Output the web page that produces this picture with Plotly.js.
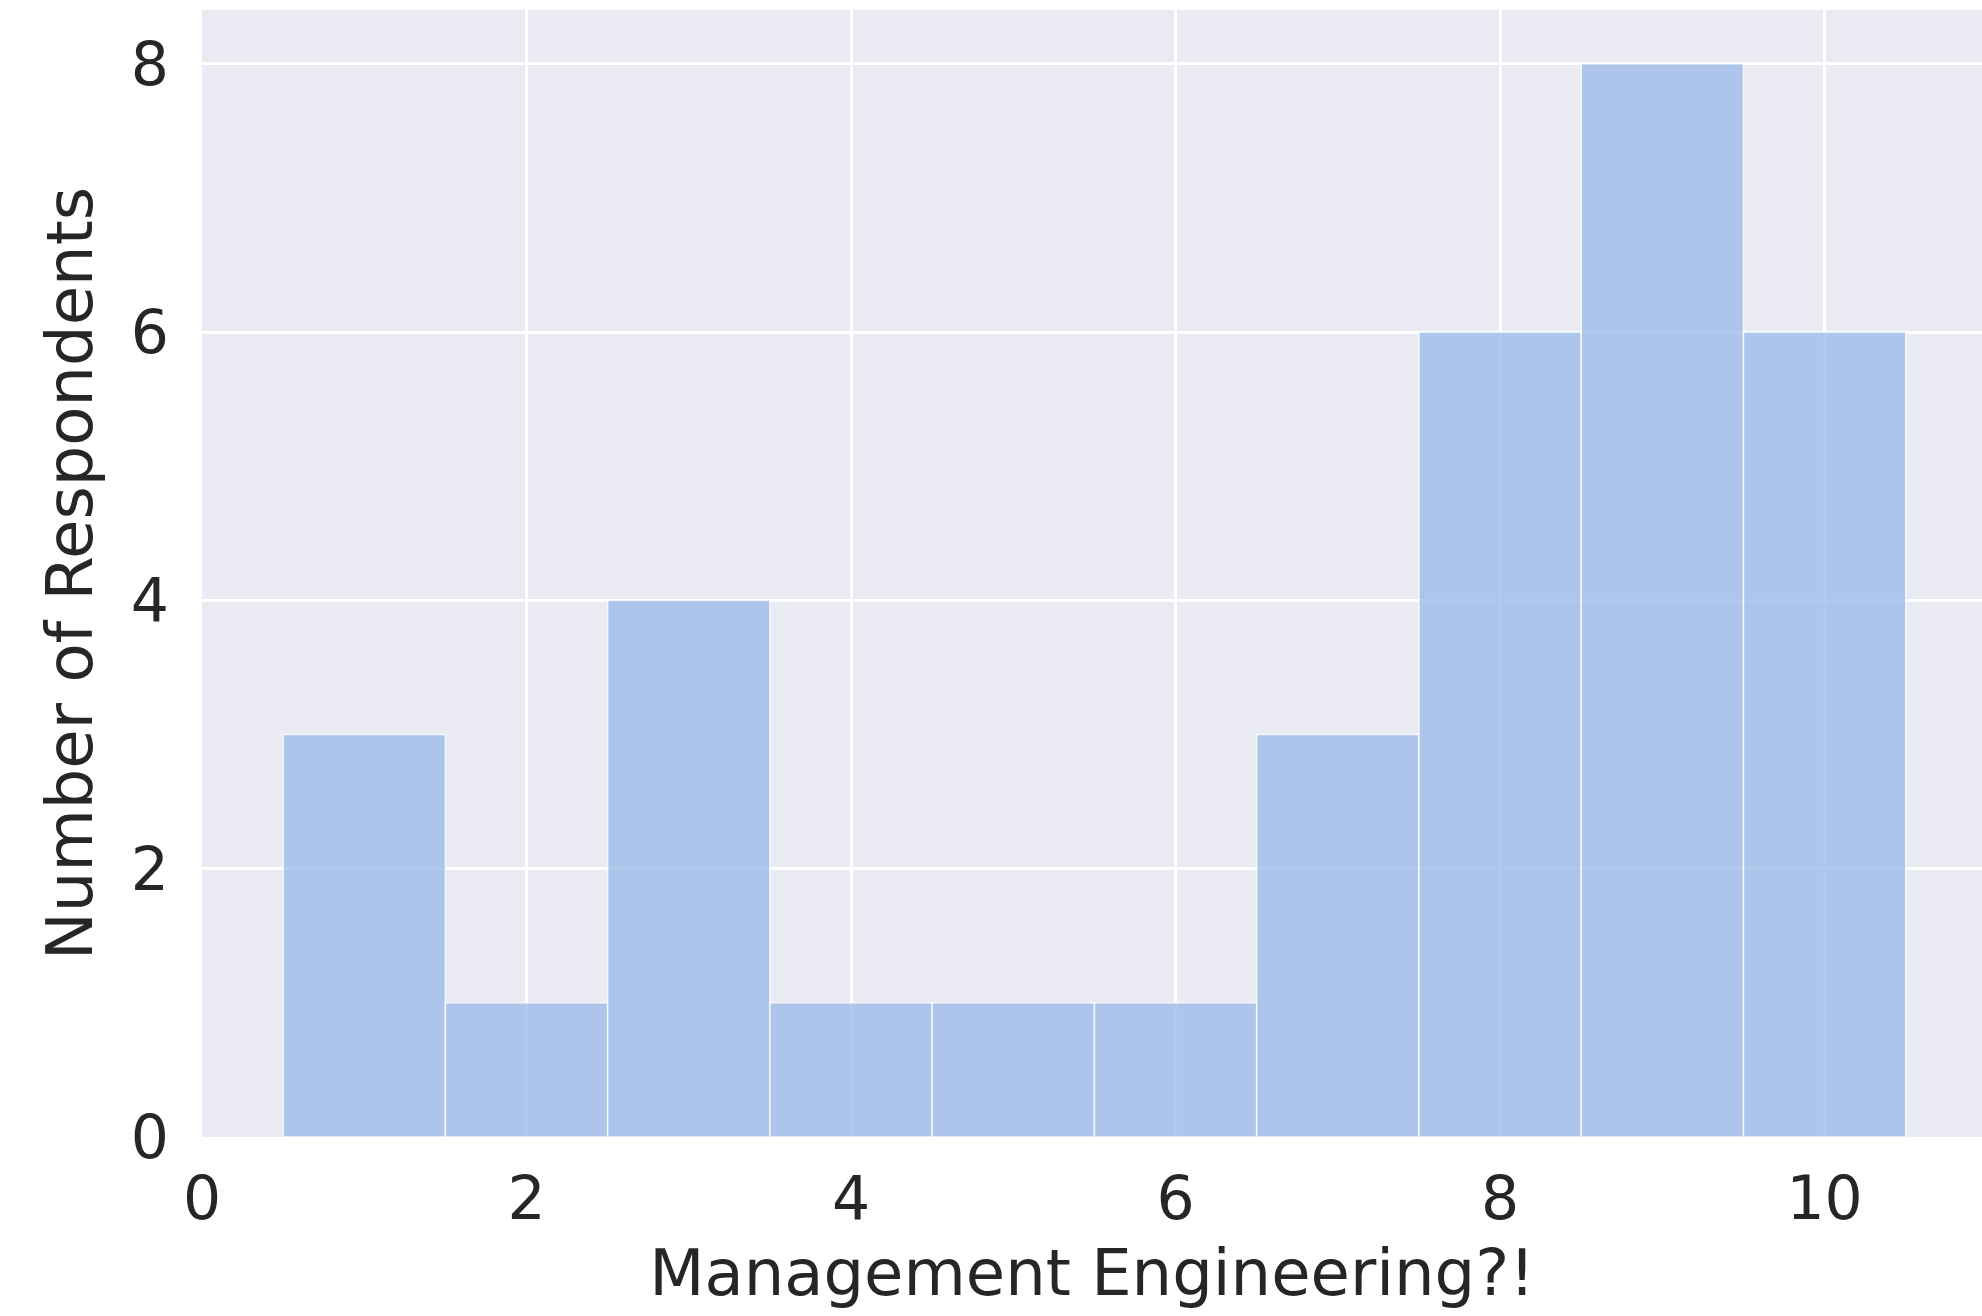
<!DOCTYPE html>
<html>
<head>
<meta charset="utf-8">
<script src="https://cdn.plot.ly/plotly-3.0.1.min.js"></script>
<style>html,body{margin:0;padding:0;background:#fff;}#chart{width:1982px;height:1316px;}</style>
</head>
<body>
<div id="chart"></div>
<script>
// Scores (bin centres) and number of respondents per score
const scores = [1, 2, 3, 4, 5, 6, 7, 8, 9, 10];
const respondents = [3, 1, 4, 1, 1, 1, 3, 6, 8, 6];
const xTickValues = [0, 2, 4, 6, 8, 10];
const yTickValues = [0, 2, 4, 6, 8];
const xTitle = "Management Engineering?!";
const yTitle = "Number of Respondents";

const textColor = "#262626";
const fontFamily = "DejaVu Sans, sans-serif";

const trace = {
  type: "bar",
  x: scores,
  y: respondents,
  width: 1,
  marker: {
    color: "rgba(158,188,232,0.8)",
    line: { color: "rgba(255,255,255,0.8)", width: 1.5 }
  },
  hoverinfo: "x+y"
};

const layout = {
  width: 1982,
  height: 1316,
  margin: { l: 202, r: 0, t: 10, b: 179, pad: 0 },
  paper_bgcolor: "#ffffff",
  plot_bgcolor: "#eaeaf2",
  showlegend: false,
  font: { family: fontFamily, size: 64, color: textColor },
  bargap: 0,
  xaxis: {
    range: [0, 10.97],
    tickvals: xTickValues,
    ticktext: xTickValues.map(String),
    showgrid: true,
    gridcolor: "#ffffff",
    gridwidth: 3,
    zeroline: false,
    showline: false,
    ticks: "outside",
    ticklen: 9,
    tickcolor: "rgba(0,0,0,0)",
    tickfont: { family: fontFamily, size: 60, color: textColor },
    title: { text: xTitle, font: { family: fontFamily, size: 64, color: textColor }, standoff: 18 },
    automargin: false,
    fixedrange: true
  },
  yaxis: {
    range: [0, 8.4],
    tickvals: yTickValues,
    ticktext: yTickValues.map(String),
    showgrid: true,
    gridcolor: "#ffffff",
    gridwidth: 3,
    zeroline: false,
    showline: false,
    ticks: "outside",
    ticklen: 20,
    tickcolor: "rgba(0,0,0,0)",
    tickfont: { family: fontFamily, size: 60, color: textColor },
    title: { text: yTitle, font: { family: fontFamily, size: 64, color: textColor }, standoff: 17 },
    automargin: false,
    fixedrange: true
  }
};

Plotly.newPlot("chart", [trace], layout, { staticPlot: true, displayModeBar: false });
</script>
</body>
</html>
